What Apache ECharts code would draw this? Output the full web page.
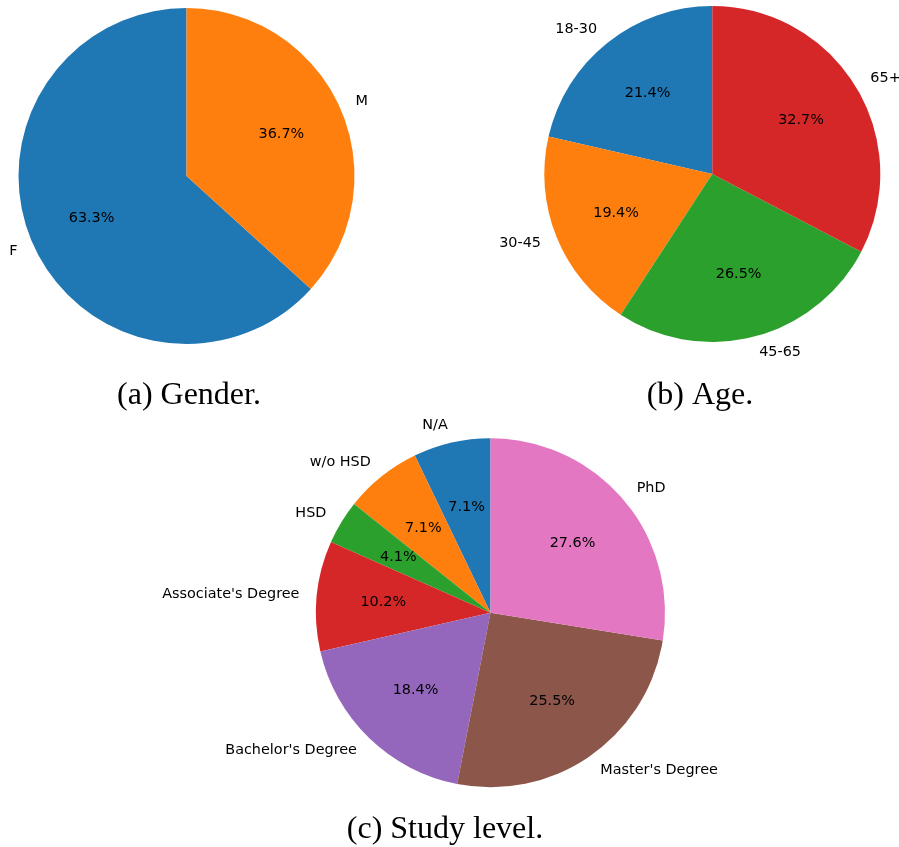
<!DOCTYPE html>
<html>
<head>
<meta charset="utf-8">
<script src="https://cdn.jsdelivr.net/npm/echarts@6/dist/echarts.min.js"></script>
<style>
  html, body { margin: 0; padding: 0; background: #fff; }
  #chart { width: 899px; height: 847px; }
</style>
</head>
<body>
<div id="chart"></div>
<script>
// counts out of 98 respondents
const genderLabels = ['F', 'M']
const genderCounts = [62, 36]

const ageLabels = ['18-30', '30-45', '45-65', '65+']
const ageCounts = [21, 19, 26, 32]

const studyLabels = ['N/A', 'w/o HSD', 'HSD', "Associate's Degree", "Bachelor's Degree", "Master's Degree", 'PhD']
const studyCounts = [7, 7, 4, 10, 18, 25, 27]

const captions = ['(a) Gender.', '(b) Age.', '(c) Study level.']

const palette = ['#1f77b4', '#ff7f0e', '#2ca02c', '#d62728', '#9467bd', '#8c564b', '#e377c2']
const textStyle = { color: '#000', fontFamily: 'DejaVu Sans', fontSize: 14.4 }

// one pie with outer names + a transparent bigger pie carrying the % labels at 0.6r
function pieSeries(labels, counts, center, r) {
  const base = {
    type: 'pie',
    center: center,
    startAngle: 90,
    clockwise: false,
    avoidLabelOverlap: false,
    silent: true,
    percentPrecision: 1,
    emphasis: { disabled: true },
    animation: false
  }
  return [
    Object.assign({}, base, {
      radius: r,
      itemStyle: { borderWidth: 0 },
      data: labels.map((n, i) => ({ name: n, value: counts[i], itemStyle: { color: palette[i] } })),
      label: Object.assign({ show: true, position: 'outside', formatter: '{b}', distanceToLabelLine: 0 }, textStyle),
      labelLine: { show: false, length: r * 0.1, length2: 0 }
    }),
    Object.assign({}, base, {
      radius: r * 1.2,
      itemStyle: { color: 'rgba(0,0,0,0)', borderWidth: 0 },
      data: labels.map((n, i) => ({ name: n, value: counts[i] })),
      label: Object.assign({ show: true, position: 'inside', formatter: '{d}%' }, textStyle),
      labelLine: { show: false }
    })
  ]
}

const captionPos = [[189, 396], [700, 396], [445, 830]]

const chart = echarts.init(document.getElementById('chart'))
chart.setOption({
  backgroundColor: '#fff',
  graphic: captions.map((t, i) => ({
    type: 'text',
    x: captionPos[i][0],
    y: captionPos[i][1],
    style: {
      text: t,
      fill: '#000',
      font: '32px "Liberation Serif"',
      textAlign: 'center',
      textVerticalAlign: 'middle'
    }
  })),
  series: [].concat(
    pieSeries(genderLabels, genderCounts, [186.5, 176], 168),
    pieSeries(ageLabels, ageCounts, [712.3, 174], 168),
    pieSeries(studyLabels, studyCounts, [490.5, 612.7], 174.5)
  )
})
</script>
</body>
</html>
